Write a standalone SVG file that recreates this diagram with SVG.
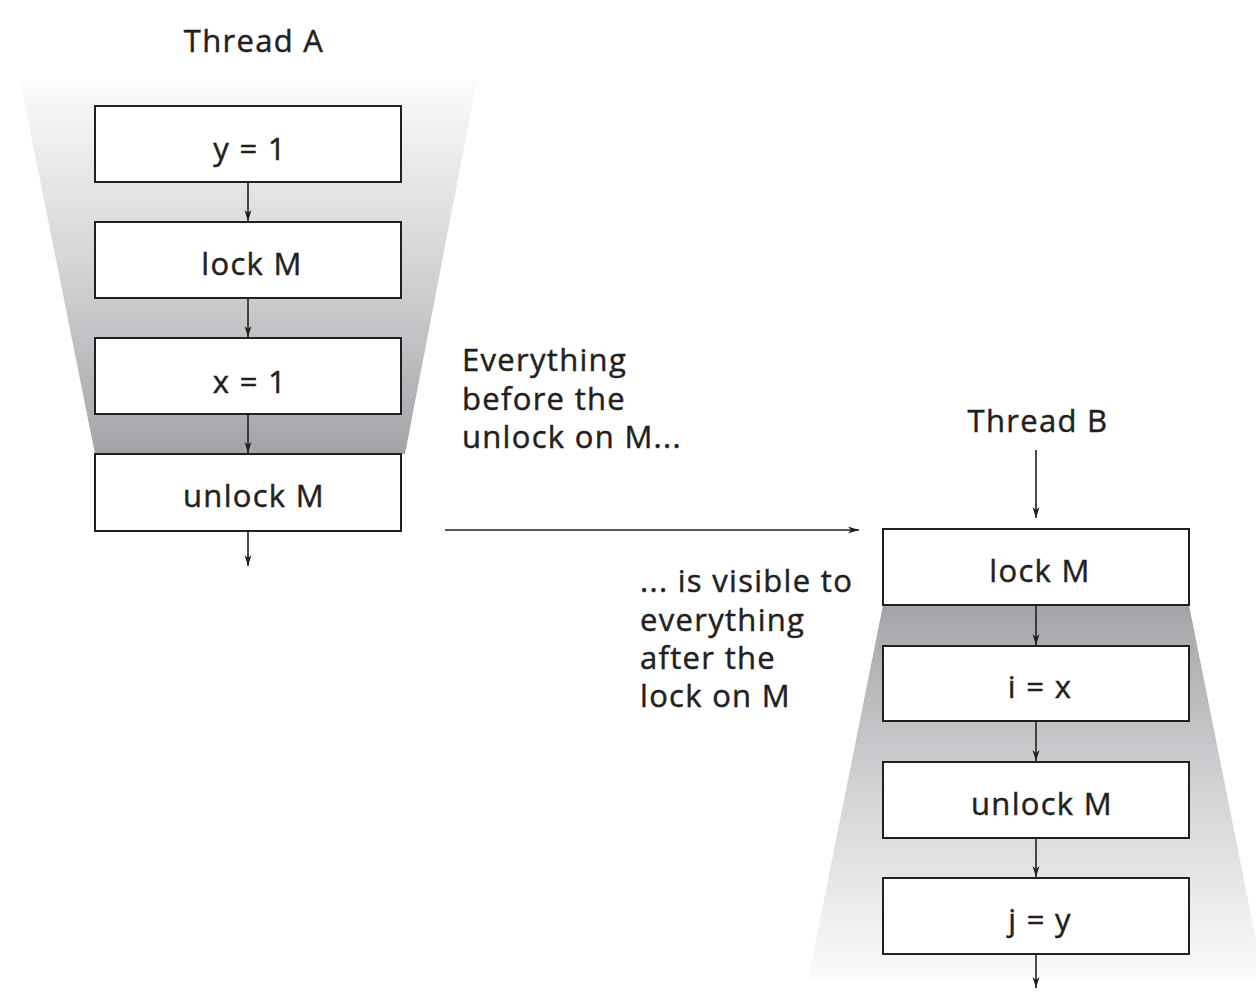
<svg xmlns="http://www.w3.org/2000/svg" width="1256" height="1006" viewBox="0 0 1256 1006">
<style>
text{font-family:"Open Sans","Liberation Sans",sans-serif;font-size:31px;fill:#231f20;stroke:#231f20;stroke-width:0.45px;letter-spacing:1.3px}
.c{text-anchor:middle}
.box{fill:#fff;stroke:#231f20;stroke-width:2}
.ln{stroke:#231f20;stroke-width:1.6;fill:none}
</style>
<defs>
<linearGradient id="gA" x1="0" y1="0" x2="0" y2="1">
<stop offset="0" stop-color="#fbfbfb"/>
<stop offset="0.5" stop-color="#d3d4d6"/>
<stop offset="1" stop-color="#a3a4a7"/>
</linearGradient>
<linearGradient id="gB" x1="0" y1="0" x2="0" y2="1">
<stop offset="0" stop-color="#a3a4a7"/>
<stop offset="0.5" stop-color="#d3d4d6"/>
<stop offset="1" stop-color="#fbfbfb"/>
</linearGradient>
<marker id="ah" markerWidth="12" markerHeight="8" refX="11" refY="4" orient="auto" markerUnits="userSpaceOnUse">
<path d="M0,0.5 L11,4 L0,7.5 L3,4 Z" fill="#231f20"/>
</marker>
</defs>
<g id="shadeA"><polygon points="20,80 477,80 405,454 95,454" fill="url(#gA)"/></g>
<g id="shadeB"><polygon points="883,605 1189,605 1264,980 808,980" fill="url(#gB)"/></g>
<g id="labels">
<text class="c" x="254" y="52">Thread A</text>
<text class="c" x="1038" y="432">Thread B</text>
<text x="462" y="371">Everything</text>
<text x="462" y="410">before the</text>
<text x="462" y="448">unlock on M...</text>
<text x="640" y="592">... is visible to</text>
<text x="640" y="631">everything</text>
<text x="640" y="669">after the</text>
<text x="640" y="707">lock on M</text>
</g>
<g id="connectors">
<line class="ln" x1="248" y1="183" x2="248" y2="221" marker-end="url(#ah)"/>
<line class="ln" x1="248" y1="299" x2="248" y2="337" marker-end="url(#ah)"/>
<line class="ln" x1="248" y1="415" x2="248" y2="453" marker-end="url(#ah)"/>
<line class="ln" x1="248" y1="532" x2="248" y2="566" marker-end="url(#ah)"/>
<line class="ln" x1="445" y1="530" x2="859" y2="530" marker-end="url(#ah)"/>
<line class="ln" x1="1036" y1="450" x2="1036" y2="518" marker-end="url(#ah)"/>
<line class="ln" x1="1036" y1="606" x2="1036" y2="645" marker-end="url(#ah)"/>
<line class="ln" x1="1036" y1="722" x2="1036" y2="761" marker-end="url(#ah)"/>
<line class="ln" x1="1036" y1="839" x2="1036" y2="877" marker-end="url(#ah)"/>
<line class="ln" x1="1036" y1="955" x2="1036" y2="988" marker-end="url(#ah)"/>
</g>
<g id="a1"><rect class="box" x="95" y="106" width="306" height="76"/><text class="c" x="250" y="160">y = 1</text></g>
<g id="a2"><rect class="box" x="95" y="222" width="306" height="76"/><text class="c" x="252" y="275">lock M</text></g>
<g id="a3"><rect class="box" x="95" y="338" width="306" height="76"/><text class="c" x="250" y="393">x = 1</text></g>
<g id="a4"><rect class="box" x="95" y="454" width="306" height="77"/><text class="c" x="254" y="507">unlock M</text></g>
<g id="b1"><rect class="box" x="883" y="529" width="306" height="76"/><text class="c" x="1040" y="582">lock M</text></g>
<g id="b2"><rect class="box" x="883" y="646" width="306" height="75"/><text class="c" x="1040" y="698">i = x</text></g>
<g id="b3"><rect class="box" x="883" y="762" width="306" height="76"/><text class="c" x="1042" y="815">unlock M</text></g>
<g id="b4"><rect class="box" x="883" y="878" width="306" height="76"/><text class="c" x="1040" y="931">j = y</text></g>
</svg>
